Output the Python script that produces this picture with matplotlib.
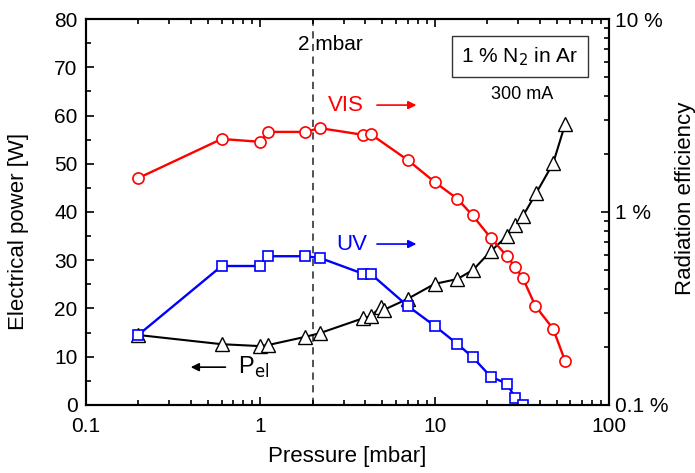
import matplotlib.pyplot as plt
from matplotlib.ticker import MultipleLocator, FixedLocator, LogLocator, NullFormatter

plt.rcParams['font.family'] = ['Liberation Sans', 'DejaVu Sans']

# pressure [mbar] for each measurement
pressure = [0.2, 0.6, 1.0, 1.1, 1.8, 2.2, 3.9, 4.3, 4.9, 5.1, 7.0, 10, 13.5,
            16.6, 21, 26, 28.9, 32.1, 38.2, 47.8, 56]
# electrical power [W]
p_el = [14.5, 12.6, 12.2, 12.4, 14.1, 14.9, 18.0, 18.4, 20.3, 19.7, 22.0, 25.1,
        26.1, 28.0, 31.9, 35.0, 37.3, 39.2, 43.9, 50.1, 58.2]

# radiation efficiency [%]
vis_p = [0.2, 0.6, 1.0, 1.1, 1.8, 2.2, 3.9, 4.3, 7.0, 10, 13.5, 16.5, 21, 26,
         28.9, 32, 37.8, 47.8, 56]
vis_eff = [1.50, 2.39, 2.31, 2.60, 2.60, 2.72, 2.51, 2.53, 1.86, 1.43, 1.17,
           0.96, 0.733, 0.59, 0.52, 0.455, 0.326, 0.248, 0.169]

uv_p = [0.2, 0.6, 1.0, 1.1, 1.8, 2.2, 3.9, 4.3, 7.0, 10, 13.5, 16.5, 21, 26,
        28.9, 32]
uv_eff = [0.231, 0.525, 0.525, 0.59, 0.59, 0.578, 0.478, 0.478, 0.326, 0.257,
          0.207, 0.177, 0.140, 0.129, 0.109, 0.100]

fig = plt.figure(figsize=(6.95, 4.73), dpi=100)
ax = fig.add_axes([0.1237, 0.1438, 0.7526, 0.816])
ax2 = ax.twinx()

ax.axvline(2, color='#444444', lw=1.3, ls=(0, (4, 3)), zorder=1)
ax.plot(pressure, p_el, color='black', lw=1.5, marker='^', ms=9.5,
        mfc='white', mec='black', mew=1.0, zorder=3)
ax2.plot(vis_p, vis_eff, color='red', lw=1.7, marker='o', ms=8,
         mfc='white', mec='red', mew=1.2, clip_on=False)
ax2.plot(uv_p, uv_eff, color='blue', lw=1.7, marker='s', ms=7,
         mfc='white', mec='blue', mew=1.2)

ax.set_xscale('log')
ax.set_xlim(0.1, 100)
ax.set_ylim(0, 80)
ax.yaxis.set_major_locator(MultipleLocator(10))
ax.yaxis.set_minor_locator(MultipleLocator(5))
ax.set_xticks([0.1, 1, 10, 100])
ax.set_xticklabels(['0.1', '1', '10', '100'])
ax.xaxis.set_minor_locator(LogLocator(base=10, subs=range(2, 10)))
ax.xaxis.set_minor_formatter(NullFormatter())

ax2.set_yscale('log')
ax2.set_ylim(0.1, 10)
ax2.yaxis.set_major_locator(FixedLocator([0.1, 1, 10]))
ax2.set_yticklabels(['0.1 %', '1 %', '10 %'])
ax2.yaxis.set_minor_locator(LogLocator(base=10, subs=range(2, 10)))
ax2.yaxis.set_minor_formatter(NullFormatter())

for a in (ax, ax2):
    for s in a.spines.values():
        s.set_linewidth(1.5)
    a.tick_params(which='both', direction='in', width=1.2, labelsize=15)
    a.tick_params(which='major', length=6)
    a.tick_params(which='minor', length=3.5)
ax.tick_params(which='both', top=True, right=False)
ax.tick_params(axis='x', pad=9)
ax.tick_params(axis='y', pad=6)
ax2.tick_params(pad=4)

ax.set_xlabel('Pressure [mbar]', fontsize=16)
ax.xaxis.set_label_coords(0.5, -0.105)
ax.set_ylabel('Electrical power [W]', fontsize=16)
ax.yaxis.set_label_coords(-0.109, 0.45)
ax2.set_ylabel('Radiation efficiency', fontsize=16)
ax2.yaxis.set_label_coords(1.126, 0.536)

ax.text(0.468, 0.933, '2 mbar', transform=ax.transAxes, fontsize=15,
        ha='center', va='center')
ax.text(0.83, 0.903, '1 % N$_2$ in Ar', transform=ax.transAxes, fontsize=15,
        ha='center', va='center',
        bbox=dict(boxstyle='square,pad=0.45', fc='white', ec='#333333', lw=1))
ax.text(0.834, 0.805, '300 mA', transform=ax.transAxes, fontsize=13,
        ha='center', va='center')

ax.text(0.497, 0.777, 'VIS', transform=ax.transAxes, fontsize=16,
        color='red', ha='center', va='center')
ax.annotate('', xy=(0.637, 0.777), xytext=(0.551, 0.777),
            xycoords='axes fraction',
            arrowprops=dict(arrowstyle='-|>', color='red', lw=1.2,
                            mutation_scale=12))
ax.text(0.508, 0.417, 'UV', transform=ax.transAxes, fontsize=16,
        color='blue', ha='center', va='center')
ax.annotate('', xy=(0.637, 0.417), xytext=(0.551, 0.417),
            xycoords='axes fraction',
            arrowprops=dict(arrowstyle='-|>', color='blue', lw=1.2,
                            mutation_scale=12))
ax.text(0.291, 0.098, 'P$_{\\mathrm{el}}$', transform=ax.transAxes,
        fontsize=17, ha='left', va='center')
ax.annotate('', xy=(0.195, 0.098), xytext=(0.272, 0.098),
            xycoords='axes fraction',
            arrowprops=dict(arrowstyle='-|>', color='black', lw=1.2,
                            mutation_scale=12))

fig.savefig('out.png', dpi=100)
